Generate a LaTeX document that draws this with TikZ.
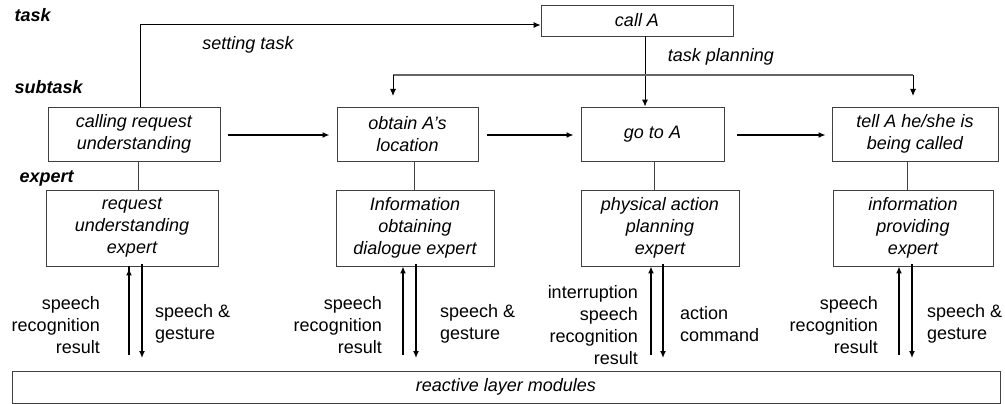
\documentclass[tikz,border=0pt]{standalone}
\usepackage{fontspec}
\setmainfont{Liberation Sans}
\usetikzlibrary{arrows.meta}
\begin{document}
\begin{tikzpicture}[x=1pt,y=-1pt,
  every node/.style={font=\fontsize{18}{22}\selectfont},
  box/.style={draw=black!75,line width=0.9pt,inner sep=0pt,align=center,font=\fontsize{18}{22}\selectfont\itshape},
  lvl/.style={anchor=west,font=\fontsize{18}{22}\selectfont\bfseries\itshape},
  lbl/.style={font=\fontsize{18}{22}\selectfont\itshape},
  arr/.style={line width=1.4pt,-{Latex[length=7pt,width=6pt]}},
  thin arr/.style={line width=1pt,-{Latex[length=7pt,width=6pt]}},
  link/.style={draw=black!75,line width=0.9pt},
  side/.style={inner sep=0pt}
]
\useasboundingbox (0,0) rectangle (1005,404);
% level labels
\node[lvl] (ltask) at (11,15) {task};
\node[lvl] (lsub) at (11,87) {subtask};
\node[lvl] (lexp) at (16,178) {expert};
% task
\node[box,minimum width=192pt,minimum height=31pt] (callA) at (637,20.5) {call A};
% subtasks
\node[box,minimum width=172pt,minimum height=54pt] (b1) at (134,134) {calling request\\understanding};
\node[box,minimum width=141pt,minimum height=54pt] (b2) at (407.5,134) {obtain A's\\location};
\node[box,minimum width=143pt,minimum height=54pt] (b3) at (652.5,134) {go to A};
\node[box,minimum width=166pt,minimum height=54pt] (b4) at (915,134) {tell A he/she is\\being called};
% experts
\node[box,minimum width=172pt,minimum height=76pt] (e1) at (132,228) {request\\understanding\\expert};
\node[box,minimum width=158pt,minimum height=76pt] (e2) at (415,228) {Information\\obtaining\\dialogue expert};
\node[box,minimum width=158pt,minimum height=76pt] (e3) at (660,228) {physical action\\planning\\expert};
\node[box,minimum width=160pt,minimum height=76pt] (e4) at (913,228) {information\\providing\\expert};
% reactive layer
\node[box,minimum width=988pt,minimum height=32pt] (react) at (506,387) {reactive layer modules};
% setting task
\coordinate (st) at (140,25);
\draw[line width=1pt,-{Latex[length=7pt,width=6pt]}] (b1.north -| st) -- (st) -- (callA.west |- st);
\node[lbl] (lset) at (248,45) {setting task};
% task planning
\coordinate (tp) at (645,0);
\draw[thin arr] (callA.south -| tp) -- (b3.north -| tp);
\node[lbl] (lplan) at (721,57) {task planning};
\coordinate (tpl) at (393,75);
\coordinate (tpr) at (913,75);
\draw[draw=black!60,line width=1.2pt] (tpl) -- (tpr);
\draw[thin arr] (tpl) -- ++(0,21);
\draw[thin arr] (tpr) -- ++(0,21);
% subtask chain
\draw[arr,shorten <=8pt,shorten >=7pt] (b1.east |- 0,135) -- (b2.west |- 0,135);
\draw[arr,shorten <=9pt,shorten >=7pt] (b2.east |- 0,135) -- (b3.west |- 0,135);
\draw[arr,shorten <=13pt,shorten >=6pt] (b3.east |- 0,135) -- (b4.west |- 0,135);
% subtask-expert links
\coordinate (k1) at (138,0);
\coordinate (k2) at (414,0);
\coordinate (k3) at (654,0);
\coordinate (k4) at (907,0);
\draw[link] (b1.south -| k1) -- (e1.north -| k1);
\draw[link] (b2.south -| k2) -- (e2.north -| k2);
\draw[link] (b3.south -| k3) -- (e3.north -| k3);
\draw[link] (b4.south -| k4) -- (e4.north -| k4);
% expert-reactive arrows
\coordinate (u1) at (129,355);
\coordinate (d1) at (142,358);
\coordinate (u2) at (403,355);
\coordinate (d2) at (416,358);
\coordinate (u3) at (651,355);
\coordinate (d3) at (663,358);
\coordinate (u4) at (899,355);
\coordinate (d4) at (912,358);
\draw[arr] (u1) -- (u1 |- e1.south) ++(0,2);
\draw[arr] ([yshift=2pt]d1 |- e1.south) -- (d1);
\draw[arr] (u2) -- (u2 |- e2.south);
\draw[arr] ([yshift=2pt]d2 |- e2.south) -- (d2);
\draw[arr] (u3) -- (u3 |- e3.south);
\draw[arr] ([yshift=2pt]d3 |- e3.south) -- (d3);
\draw[arr] (u4) -- (u4 |- e4.south);
\draw[arr] ([yshift=2pt]d4 |- e4.south) -- (d4);
% side labels
\node[side,anchor=east,align=right] (s1) at (100,325) {speech\\recognition\\result};
\node[side,anchor=west,align=left] (g1) at (155,324) {speech \&\\gesture};
\node[side,anchor=east,align=right] (s2) at (382,325) {speech\\recognition\\result};
\node[side,anchor=west,align=left] (g2) at (440,324) {speech \&\\gesture};
\node[side,anchor=east,align=right] (s3) at (638,325.5) {interruption\\speech\\recognition\\result};
\node[side,anchor=west,align=left] (g3) at (680,324) {action\\command};
\node[side,anchor=east,align=right] (s4) at (878,325) {speech\\recognition\\result};
\node[side,anchor=west,align=left] (g4) at (927,324) {speech \&\\gesture};
\end{tikzpicture}
\end{document}
